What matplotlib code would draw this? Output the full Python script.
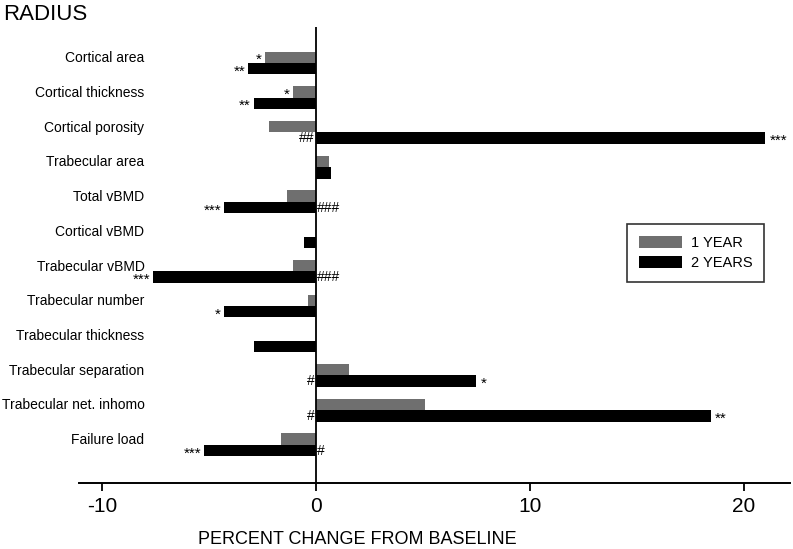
import matplotlib
matplotlib.use("Agg")
import matplotlib.pyplot as plt
import matplotlib.transforms as mtransforms

plt.rcParams['font.family'] = ['Liberation Sans', 'DejaVu Sans']
plt.rcParams['axes.unicode_minus'] = False

categories = ['Cortical area', 'Cortical thickness', 'Cortical porosity',
              'Trabecular area', 'Total vBMD', 'Cortical vBMD',
              'Trabecular vBMD', 'Trabecular number', 'Trabecular thickness',
              'Trabecular separation', 'Trabecular net. inhomo', 'Failure load']
year1 = [-2.38, -1.09, -2.2, 0.6, -1.36, 0.0, -1.09, -0.39, 0.0, 1.54, 5.1, -1.64]
year2 = [-3.18, -2.9, 21.0, 0.7, -4.3, -0.56, -7.6, -4.3, -2.9, 7.5, 18.45, -5.23]

# significance markers at the bar end
star1 = ['*', '*', '', '', '', '', '', '', '', '', '', '']
star2 = ['**', '**', '***', '', '***', '', '***', '*', '', '*', '**', '***']
# markers at the zero line for 2-year bars
hash2 = ['', '', '##', '', '###', '', '###', '', '', '#', '#', '#']

gray = '#6f6f6f'
bar_h = 0.33

fig = plt.figure(figsize=(7.93, 5.49), dpi=100)
ax = fig.add_axes([0.0996, 0.1202, 0.8964, 0.8308])

y = list(range(len(categories)))
y1 = [i - bar_h / 2 for i in y]
y2 = [i + bar_h / 2 for i in y]
ax.barh(y1, year1, height=bar_h, color=gray, label='1 YEAR', zorder=2)
ax.barh(y2, year2, height=bar_h, color='black', label='2 YEARS', zorder=2)
ax.axvline(0, color='black', lw=1.3, zorder=3)

ax.set_xlim(-11.07, 22.15)
ax.set_ylim(12.1, -1.04)

for spine in ['left', 'right', 'top']:
    ax.spines[spine].set_visible(False)
ax.spines['bottom'].set_linewidth(1.4)
ax.set_yticks([])
ax.set_xticks([-10, 0, 10, 20])
ax.tick_params(axis='x', length=6, width=1.3, labelsize=15, pad=4)

# category labels sit inside the axes, level with the 1-year bar
trans = mtransforms.blended_transform_factory(ax.transAxes, ax.transData)
for yy, name in zip(y1, categories):
    ax.text(0.092, yy + 0.03, name, transform=trans, ha='right', va='center', fontsize=10)

def mark(val, yy, txt):
    if not txt:
        return
    if val < 0:
        ax.annotate(txt, xy=(val, yy), xytext=(-2, -2), textcoords='offset points',
                    ha='right', va='center', fontsize=11)
    else:
        ax.annotate(txt, xy=(val, yy), xytext=(3, -2), textcoords='offset points',
                    ha='left', va='center', fontsize=11)

for i in y:
    mark(year1[i], y1[i], star1[i])
    mark(year2[i], y2[i], star2[i])
    if hash2[i]:
        if year2[i] > 0:
            ax.annotate(hash2[i], xy=(0, y2[i]), xytext=(-1, 0), textcoords='offset points',
                        ha='right', va='center', fontsize=10)
        else:
            ax.annotate(hash2[i], xy=(0, y2[i]), xytext=(1, 0), textcoords='offset points',
                        ha='left', va='center', fontsize=10)

leg = ax.legend(loc='upper left', bbox_to_anchor=(627 / 793, 1 - 224 / 549),
                bbox_transform=fig.transFigure, borderaxespad=0, fancybox=False,
                edgecolor='black', fontsize=10.5, handlelength=3.0, handleheight=0.9,
                borderpad=0.8, labelspacing=0.45, handletextpad=0.6)
leg.get_frame().set_linewidth(1.2)

fig.text(3 / 793, 1 - 14 / 549, 'RADIUS', ha='left', va='center', fontsize=16)
fig.text(357 / 793, 1 - 540 / 549, 'PERCENT CHANGE FROM BASELINE',
         ha='center', va='center', fontsize=13)

fig.savefig('out.png', dpi=100)
